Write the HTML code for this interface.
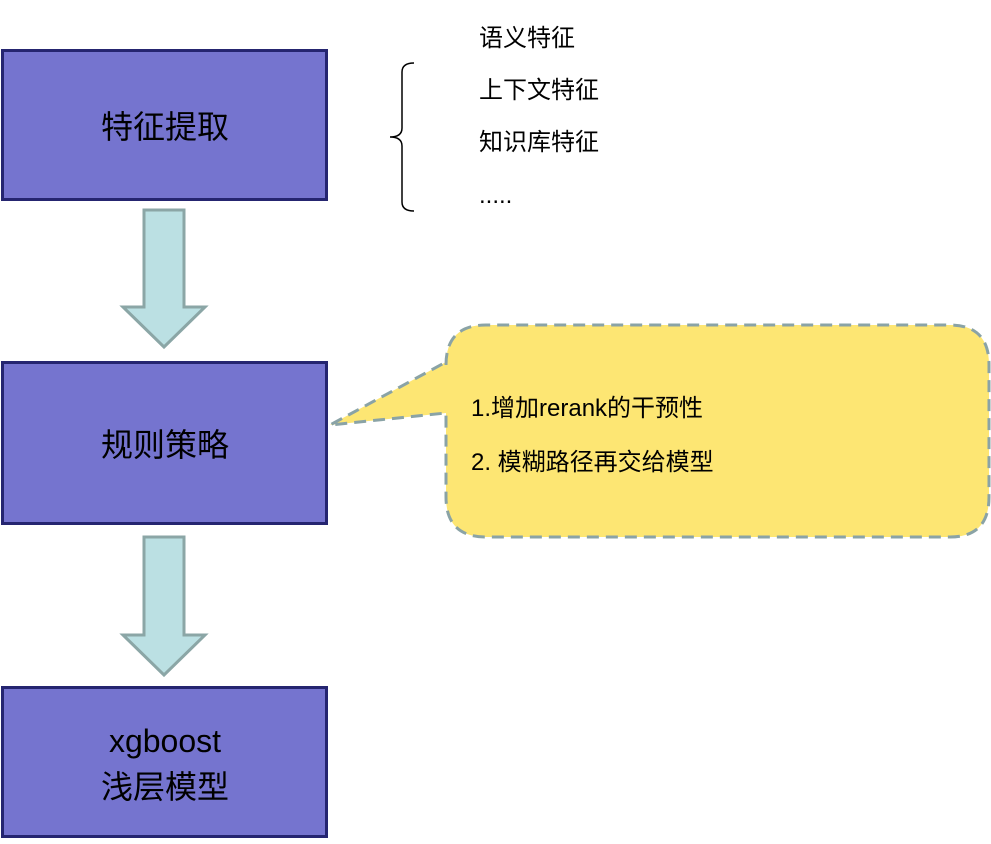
<!DOCTYPE html>
<html><head><meta charset="utf-8"><style>
body{margin:0;background:#fff;width:991px;height:839px;overflow:hidden}
text{font-family:"Liberation Sans","Noto Sans CJK SC",sans-serif;fill:#000}
</style></head><body>
<svg width="991" height="839" xmlns="http://www.w3.org/2000/svg">
<g fill="#7574CF" stroke="#252570" stroke-width="3">
<rect x="2.5" y="50.5" width="324" height="149"/>
<rect x="2.5" y="362.5" width="324" height="161"/>
<rect x="2.5" y="687.5" width="324" height="149"/>
</g>
<g fill="#BBE0E3" stroke="#8BA6A6" stroke-width="3">
<path d="M144,210 H184 V307 H205 L164,347 L123,307 H144 Z"/>
<path d="M144,537 H184 V635 H205 L164,675 L123,635 H144 Z"/>
</g>
<path d="M446,365 Q446,325 486,325 H950 Q989,325 989,365 V497 Q989,537 950,537 H486 Q446,537 446,497 V413 L330,425 L446,362 Z" fill="#FDE673" stroke="#8AA3A6" stroke-width="3" stroke-dasharray="12,7"/>
<path d="M414,63 Q402,63 402,72 V128 Q402,137 390,137 Q402,137 402,146 V202 Q402,211 414,211" fill="none" stroke="#000" stroke-width="1.5"/>
<g font-size="32" text-anchor="middle">
<text x="165" y="138">特征提取</text>
<text x="165" y="456">规则策略</text>
<text x="165" y="752">xgboost</text>
<text x="165" y="798">浅层模型</text>
</g>
<g font-size="24">
<text x="479" y="46">语义特征</text>
<text x="479" y="98">上下文特征</text>
<text x="479" y="150">知识库特征</text>
<text x="479" y="203">.....</text>
<text x="471" y="416">1.增加rerank的干预性</text>
<text x="471" y="470">2. 模糊路径再交给模型</text>
</g>
</svg>
</body></html>
